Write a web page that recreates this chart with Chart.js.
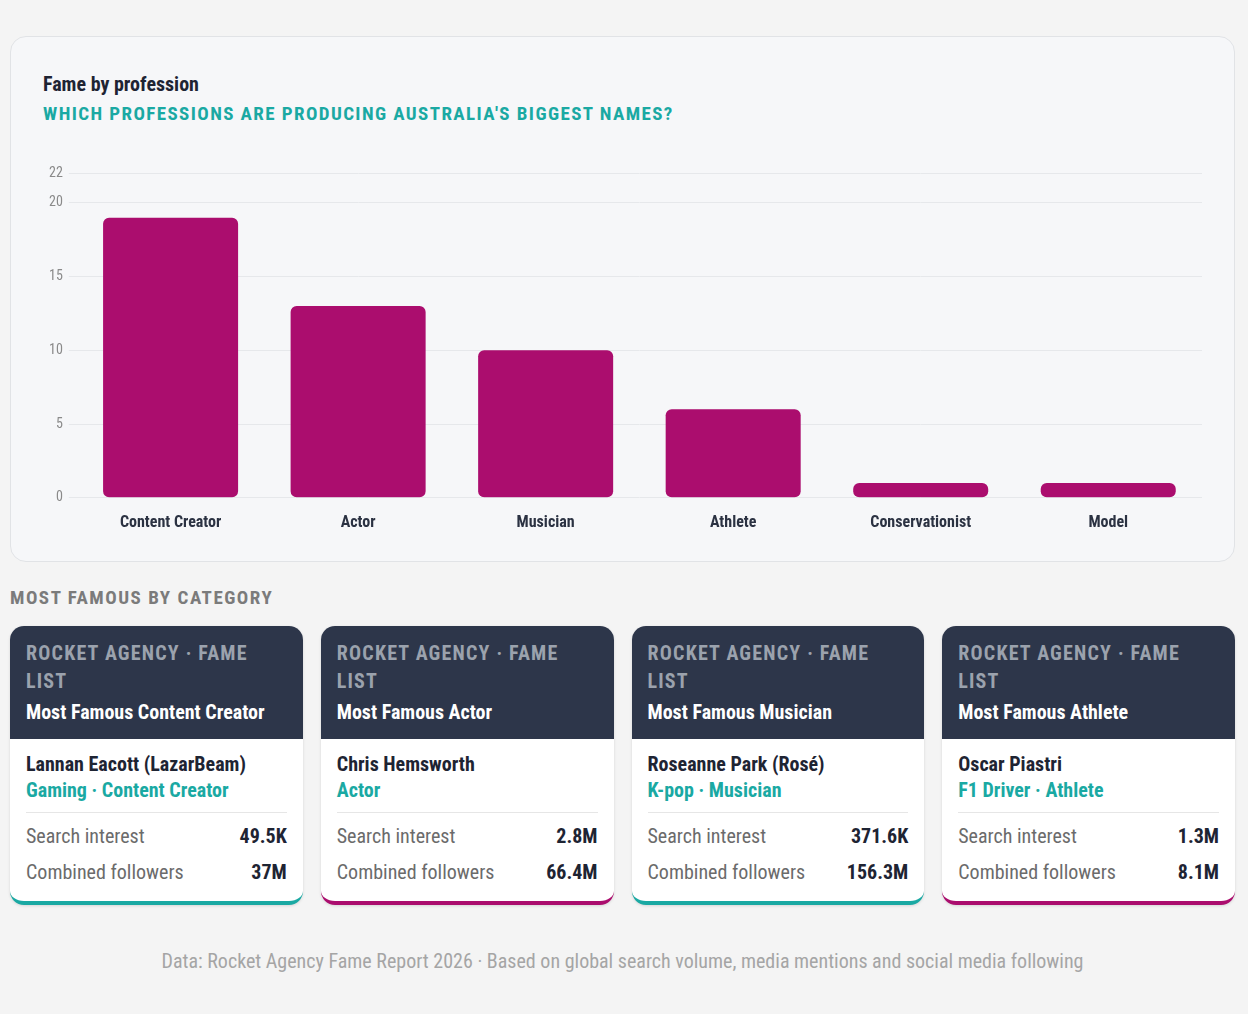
<!DOCTYPE html>
<html lang="en">
<head>
<meta charset="UTF-8">
<title>Fame by profession</title>
<script src="https://cdn.jsdelivr.net/npm/chart.js@4.4.0/dist/chart.umd.min.js"></script>
<style>
  * { box-sizing: border-box; }
  body {
    margin: 0;
    background: #f4f4f4;
    font-family: "Roboto Condensed", Roboto, sans-serif;
    font-stretch: condensed;
    width: 1248px;
    height: 1014px;
  }
  .wrap { padding: 36px 13px 0 10px; }
  .chart-card {
    background: #f6f7f9;
    border: 1px solid #e1e3e6;
    border-radius: 16px;
    height: 526px;
    padding: 34px 32px 0 32px;
  }
  .chart-card h1 {
    margin: 0;
    font-size: 20px;
    font-weight: 700;
    color: #1e2433;
    line-height: 26px;
  }
  .chart-card h2 {
    margin: 4px 0 0 0;
    font-size: 19px;
    font-weight: 700;
    color: #1aa9a3;
    letter-spacing: 1.4px;
    line-height: 26px;
  }
  .chart-box { position: relative; height: 382px; margin-top: 32px; }
  .section {
    margin: 24px 0 17px 0;
    font-size: 19px;
    font-weight: 700;
    letter-spacing: 1.5px;
    color: #7b7b7b;
  }
  .cards { display: flex; gap: 18px; }
  .card {
    width: 293px;
    height: 279px;
    background: #fff;
    border-radius: 14px;
    overflow: hidden;
    box-shadow: 0 1px 3px rgba(0,0,0,0.12);
  }
  .card.teal { border-bottom: 4px solid #1aa9a3; }
  .card.pink { border-bottom: 4px solid #ab0d6e; }
  .head {
    background: #2d364a;
    height: 113px;
    padding: 13px 16px 0 16px;
  }
  .head .tag {
    font-size: 20px;
    font-weight: 700;
    letter-spacing: 1.2px;
    color: #9ba2ad;
    line-height: 28px;
  }
  .head .what {
    font-size: 20px;
    font-weight: 700;
    color: #fff;
    line-height: 30px;
    margin-top: 2px;
  }
  .body { padding: 12px 16px 0 16px; }
  .name { font-size: 20px; font-weight: 700; color: #1e2433; line-height: 26px; }
  .cat { font-size: 20px; font-weight: 700; color: #1aa9a3; line-height: 26px; }
  .rule { border-top: 1px solid #e6e6e6; margin: 9px 0 5px 0; }
  .row { display: flex; justify-content: space-between; font-size: 20px; line-height: 36px; }
  .row span:first-child { color: #6b6b6b; }
  .row span:last-child { color: #1e2433; font-weight: 700; }
  .foot {
    text-align: center;
    color: #a5a5a5;
    font-size: 20px;
    margin-top: 44px;
  }
</style>
</head>
<body>
<div class="wrap">
  <div class="chart-card">
    <h1>Fame by profession</h1>
    <h2>WHICH PROFESSIONS ARE PRODUCING AUSTRALIA'S BIGGEST NAMES?</h2>
    <div class="chart-box"><canvas id="fameChart"></canvas></div>
  </div>

  <div class="section">MOST FAMOUS BY CATEGORY</div>
  <div class="cards" id="cards"></div>

  <div class="foot">Data: Rocket Agency Fame Report 2026 · Based on global search volume, media mentions and social media following</div>
</div>

<script>
  // chart data
  const professions = ['Content Creator', 'Actor', 'Musician', 'Athlete', 'Conservationist', 'Model'];
  const famousCount = [19, 13, 10, 6, 1, 1];

  // cards
  const cardTitles = ['Most Famous Content Creator', 'Most Famous Actor', 'Most Famous Musician', 'Most Famous Athlete'];
  const cardNames = ['Lannan Eacott (LazarBeam)', 'Chris Hemsworth', 'Roseanne Park (Rosé)', 'Oscar Piastri'];
  const cardCats = ['Gaming · Content Creator', 'Actor', 'K-pop · Musician', 'F1 Driver · Athlete'];
  const searchInterest = ['49.5K', '2.8M', '371.6K', '1.3M'];
  const followers = ['37M', '66.4M', '156.3M', '8.1M'];

  const cardsEl = document.getElementById('cards');
  cardTitles.forEach((t, i) => {
    const c = document.createElement('div');
    c.className = 'card ' + (i % 2 === 0 ? 'teal' : 'pink');
    c.innerHTML = `
      <div class="head">
        <div class="tag">ROCKET AGENCY · FAME LIST</div>
        <div class="what">${t}</div>
      </div>
      <div class="body">
        <div class="name">${cardNames[i]}</div>
        <div class="cat">${cardCats[i]}</div>
        <div class="rule"></div>
        <div class="row"><span>Search interest</span><span>${searchInterest[i]}</span></div>
        <div class="row"><span>Combined followers</span><span>${followers[i]}</span></div>
      </div>`;
    cardsEl.appendChild(c);
  });

  const fontFam = '"Roboto Condensed", Roboto, sans-serif';

  new Chart(document.getElementById('fameChart'), {
    type: 'bar',
    data: {
      labels: professions,
      datasets: [{
        data: famousCount,
        backgroundColor: '#ab0d6e',
        borderRadius: 6,
        borderSkipped: false
      }]
    },
    options: {
      responsive: true,
      maintainAspectRatio: false,
      animation: false,
      plugins: {
        legend: { display: false },
        tooltip: { enabled: false }
      },
      scales: {
        x: {
          grid: { display: false },
          border: { display: false },
          ticks: {
            color: '#2b3242',
            font: { family: fontFam, size: 16, weight: 'bold' },
            padding: 8
          }
        },
        y: {
          beginAtZero: true,
          max: 22,
          grid: { color: '#e6e8eb' },
          border: { display: false },
          ticks: {
            stepSize: 5,
            color: '#8a8a8a',
            font: { family: fontFam, size: 14 },
            padding: 6
          }
        }
      }
    }
  });
</script>
</body>
</html>
